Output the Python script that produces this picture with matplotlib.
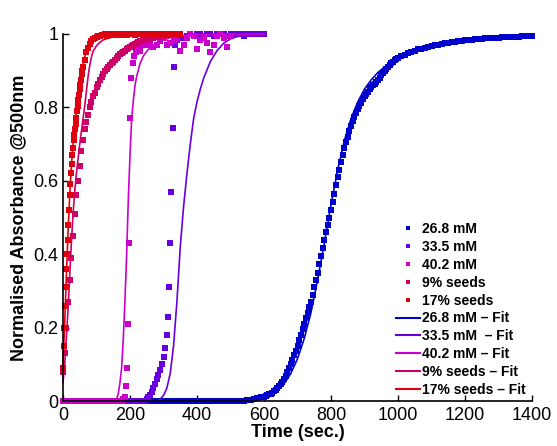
import numpy as np
import matplotlib
matplotlib.use("Agg")
import matplotlib.pyplot as plt
from matplotlib.lines import Line2D
from matplotlib.ticker import FuncFormatter

plt.rcParams['font.family'] = ['Liberation Sans', 'DejaVu Sans']

# ---------------- data ----------------
# 26.8 mM
blue_t = list(range(0, 600, 10)) + list(range(600, 1000, 5)) + list(range(1000, 1401, 10))
blue_y = ([0.0] * 55 + [0.002, 0.004, 0.006, 0.008, 0.011] +
          [0.012, 0.013, 0.015, 0.018, 0.02, 0.023, 0.027, 0.031, 0.035, 0.041,
           0.047, 0.053, 0.06, 0.069, 0.079, 0.089, 0.1, 0.112, 0.124, 0.137,
           0.15, 0.165, 0.18, 0.195, 0.21, 0.225, 0.24, 0.255, 0.27, 0.29,
           0.31, 0.33, 0.35, 0.372, 0.395, 0.418, 0.44, 0.46, 0.48, 0.5,
           0.52, 0.543, 0.565, 0.588, 0.61, 0.63, 0.65, 0.67, 0.69, 0.705,
           0.72, 0.735, 0.75, 0.762, 0.773, 0.784, 0.795, 0.804, 0.813, 0.822,
           0.83, 0.836, 0.843, 0.849, 0.855, 0.86, 0.865, 0.87, 0.875, 0.881,
           0.888, 0.894, 0.9, 0.905, 0.91, 0.915, 0.92, 0.924, 0.928, 0.932] +
          [0.935, 0.939, 0.943, 0.947, 0.951, 0.955, 0.958, 0.96, 0.962, 0.965,
           0.967, 0.969, 0.971, 0.973, 0.975, 0.976, 0.978, 0.979, 0.98, 0.982,
           0.983, 0.984, 0.985, 0.986, 0.987, 0.987, 0.988, 0.988, 0.989, 0.99,
           0.99, 0.991, 0.991, 0.992, 0.992, 0.993, 0.993, 0.994, 0.994, 0.995,
           0.995])
blue_fit_t = [0, 500, 520, 540, 560, 580, 600, 620, 640, 660, 680, 700, 720, 740, 760,
              780, 800, 820, 840, 860, 880, 900, 920, 940, 960, 980, 1000, 1050,
              1100, 1150, 1200, 1250, 1300, 1350, 1400]
blue_fit_y = [0.0, 0.001, 0.002, 0.003, 0.005, 0.008, 0.012, 0.019, 0.03, 0.047,
              0.075, 0.115, 0.17, 0.24, 0.33, 0.43, 0.535, 0.63, 0.71, 0.77,
              0.815, 0.85, 0.875, 0.895, 0.91, 0.923, 0.934, 0.955, 0.968, 0.977,
              0.983, 0.988, 0.991, 0.993, 0.995]

# 33.5 mM
purple_t = (list(range(0, 250, 5)) +
            [250, 255, 260, 265, 270, 275, 280, 285, 290, 295, 300, 305, 310, 314,
             317, 320, 323, 327, 330, 334, 340] + list(range(350, 601, 10)))
purple_y = ([0.0] * 50 +
            [0.005, 0.01, 0.015, 0.025, 0.035, 0.045, 0.06, 0.07, 0.085, 0.1,
             0.12, 0.145, 0.18, 0.23, 0.31, 0.43, 0.57, 0.745, 0.91, 0.97, 0.985] +
            [0.99, 0.99, 0.995, 1.0, 0.995, 1.0, 1.0, 0.995, 1.0, 1.0,
             0.995, 1.0, 1.0, 1.0, 0.995, 1.0, 1.0, 1.0, 1.0, 0.995,
             1.0, 1.0, 1.0, 1.0, 1.0, 1.0])
purple_fit_t = [0, 280, 290, 300, 310, 320, 330, 340, 350, 360, 370, 380, 390, 400,
                410, 420, 440, 460, 480, 500, 520, 550, 600]
purple_fit_y = [0.0, 0.0, 0.005, 0.015, 0.035, 0.075, 0.15, 0.27, 0.42, 0.53,
                0.62, 0.7, 0.77, 0.815, 0.85, 0.88, 0.925, 0.955, 0.975, 0.987,
                0.993, 0.997, 1.0]

# 40.2 mM
magenta_t = (list(range(0, 180, 5)) +
             [180, 184, 187, 190, 193, 196, 200, 204, 208, 213, 218, 224, 230] +
             list(range(240, 501, 10)))
magenta_y = ([0.0] * 36 +
             [0.005, 0.01, 0.04, 0.09, 0.21, 0.43, 0.77, 0.88, 0.92, 0.94, 0.95, 0.96, 0.955] +
             [0.97, 0.97, 0.975, 0.965, 0.97, 0.98, 0.99, 0.97, 0.975, 0.985,
              0.99, 0.955, 0.97, 0.99, 1.0, 0.995, 0.96, 0.985, 0.99, 0.975,
              0.95, 0.97, 0.995, 1.0, 0.99, 0.965, 0.995])
magenta_fit_t = [0, 155, 160, 165, 170, 175, 180, 185, 190, 195, 200, 205, 210, 215,
                 220, 230, 240, 250, 260, 270, 290, 320, 360, 420, 600]
magenta_fit_y = [0.0, 0.0, 0.005, 0.02, 0.05, 0.09, 0.17, 0.275, 0.4, 0.55,
                 0.67, 0.77, 0.82, 0.86, 0.885, 0.92, 0.94, 0.953, 0.963, 0.97,
                 0.98, 0.99, 0.996, 0.999, 1.0]

# 9% seeds
crimson_t = list(range(0, 351, 5))
crimson_y = [0.08, 0.13, 0.2, 0.27, 0.33, 0.39, 0.45, 0.51, 0.56, 0.6,
             0.64, 0.68, 0.71, 0.74, 0.76, 0.78, 0.8, 0.815, 0.83, 0.84,
             0.855, 0.865, 0.875, 0.883, 0.89, 0.898, 0.905, 0.91, 0.915, 0.92,
             0.925, 0.93, 0.935, 0.94, 0.945, 0.948, 0.95, 0.954, 0.958, 0.962,
             0.965, 0.968, 0.97, 0.972, 0.975, 0.978, 0.98, 0.982, 0.983, 0.985,
             0.986, 0.987, 0.988, 0.989, 0.99, 0.991, 0.992, 0.993, 0.993, 0.994,
             0.995, 0.995, 0.996, 0.996, 0.997, 0.997, 0.998, 0.998, 0.998, 0.999,
             0.999]
crimson_fit_t = [0, 5, 10, 15, 20, 25, 30, 35, 40, 45, 50, 55, 60, 65, 70, 75, 80, 85,
                 90, 100, 110, 120, 140, 160, 200, 250, 350]
crimson_fit_y = [0.05, 0.1, 0.17, 0.25, 0.34, 0.43, 0.51, 0.57, 0.62, 0.66,
                 0.7, 0.735, 0.77, 0.805, 0.845, 0.885, 0.915, 0.938, 0.953, 0.968,
                 0.977, 0.984, 0.99, 0.994, 0.997, 0.999, 1.0]

# 17% seeds
red_t = list(range(0, 61, 2)) + list(range(65, 351, 5))
red_y = ([0.09, 0.15, 0.2, 0.26, 0.31, 0.36, 0.4, 0.44, 0.48, 0.52,
          0.56, 0.59, 0.62, 0.645, 0.67, 0.69, 0.71, 0.725, 0.74, 0.755,
          0.77, 0.79, 0.805, 0.82, 0.835, 0.85, 0.86, 0.875, 0.89, 0.9,
          0.91] +
         [0.93, 0.95, 0.963, 0.973, 0.981, 0.986, 0.99, 0.992, 0.994, 0.995,
          0.996, 0.997, 1.0, 0.995, 0.998, 1.0, 0.997, 0.999, 1.0, 0.996,
          0.999, 1.0, 1.0, 0.998, 1.0, 0.997, 1.0, 1.0, 0.999, 1.0,
          0.998, 1.0, 1.0, 0.999, 1.0, 1.0, 0.998, 1.0, 1.0, 1.0,
          0.999, 1.0, 1.0, 1.0, 1.0, 0.999, 1.0, 1.0, 1.0, 1.0,
          1.0, 1.0, 1.0, 1.0, 1.0, 1.0, 1.0, 1.0])
red_fit_t = [0, 5, 10, 15, 20, 25, 30, 35, 40, 45, 50, 55, 60, 65, 70, 80, 90, 100,
             120, 150, 350]
red_fit_y = [0.1, 0.21, 0.34, 0.46, 0.56, 0.64, 0.7, 0.745, 0.785, 0.825,
             0.86, 0.89, 0.915, 0.937, 0.955, 0.977, 0.989, 0.995, 0.999, 1.0, 1.0]

colors = ['#0000CC', '#6600DD', '#CC00CC', '#CC0066', '#DD0011']
data_labels = ['26.8 mM', '33.5 mM', '40.2 mM', '9% seeds', '17% seeds']
fit_labels = ['26.8 mM \u2013 Fit', '33.5 mM  \u2013 Fit', '40.2 mM \u2013 Fit',
              '9% seeds \u2013 Fit', '17% seeds \u2013 Fit']

series = [(blue_t, blue_y, blue_fit_t, blue_fit_y),
          (purple_t, purple_y, purple_fit_t, purple_fit_y),
          (magenta_t, magenta_y, magenta_fit_t, magenta_fit_y),
          (crimson_t, crimson_y, crimson_fit_t, crimson_fit_y),
          (red_t, red_y, red_fit_t, red_fit_y)]

fig = plt.figure(figsize=(5.57, 4.46), dpi=100)
ax = fig.add_axes([63 / 557, 1 - 401 / 446, 469 / 557, 367 / 446])

for (dt, dy, ft, fy), c in zip(series, colors):
    ax.plot(dt, dy, 's', color=c, markersize=3.8, markeredgewidth=0, clip_on=False)
    ax.plot(ft, fy, '-', color=c, linewidth=1.2, clip_on=False)

ax.set_xlim(0, 1400)
ax.set_ylim(0, 1)
ax.set_xticks(range(0, 1401, 200))
ax.set_yticks([0, 0.2, 0.4, 0.6, 0.8, 1])
ax.yaxis.set_major_formatter(FuncFormatter(lambda v, p: '%g' % v))
ax.spines['top'].set_visible(False)
ax.spines['right'].set_visible(False)
for s in ['left', 'bottom']:
    ax.spines[s].set_linewidth(1.2)
ax.tick_params(direction='in', length=4, width=1, labelsize=13)
ax.tick_params(axis='x', pad=4.5)
ax.tick_params(axis='y', pad=3.5)
ax.set_xlabel('Time (sec.)', fontsize=13, fontweight='bold', labelpad=0)
ax.set_ylabel('Normalised Absorbance @500nm', fontsize=13, fontweight='bold', labelpad=4)

handles = [Line2D([], [], linestyle='none', marker='s', markersize=3.2, color=c,
                  markeredgewidth=0) for c in colors]
handles += [Line2D([], [], linestyle='-', linewidth=1.5, color=c) for c in colors]
ax.legend(handles, data_labels + fit_labels, loc='lower left',
          bbox_to_anchor=(396 / 557, 1 - 397 / 446), bbox_transform=fig.transFigure,
          frameon=False, prop={'weight': 'bold', 'size': 10}, handlelength=1.75,
          handletextpad=0.15, labelspacing=0.28, borderpad=0, borderaxespad=0)

fig.savefig('out.png', dpi=100)
